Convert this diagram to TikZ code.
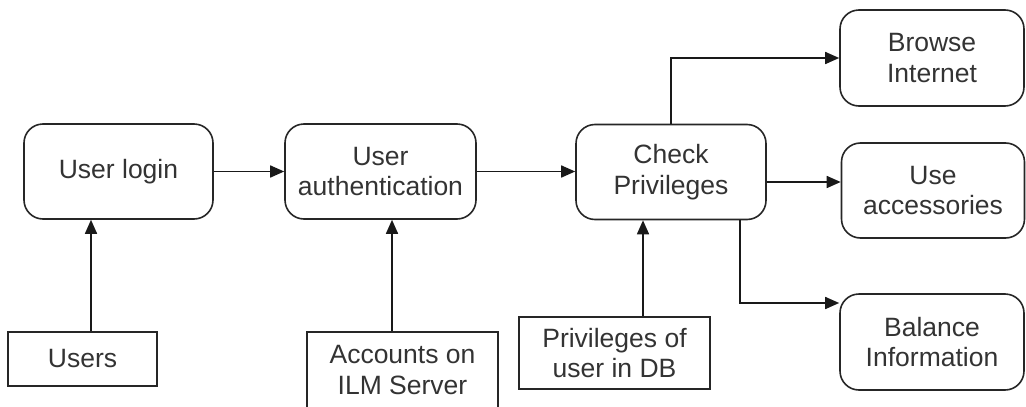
\documentclass[tikz,border=0pt]{standalone}
\usepackage{fontspec}
\setmainfont{Liberation Sans}
\usetikzlibrary{arrows.meta}
\begin{document}
\begin{tikzpicture}[x=1pt,y=-1pt,
  proc/.style={draw=black!85, line width=1.6pt, rounded corners=19pt, align=center,
    font=\fontsize{26.5}{30.5}\selectfont, text=black!80, inner sep=0pt},
  store/.style={draw=black!85, line width=1.6pt, align=center,
    font=\fontsize{26.5}{30.5}\selectfont, text=black!80, inner sep=0pt},
  arr/.style={draw=black!90, line width=1.6pt, -{Triangle[length=14pt,width=12pt]}}]
\useasboundingbox (0,0) rectangle (1026,407);
\node[proc, minimum width=189pt, minimum height=95pt] (login) at (118.5,171.5) {User login};
\node[proc, minimum width=191pt, minimum height=95pt] (auth) at (380.5,171.5) {User\\authentication};
\node[proc, minimum width=190pt, minimum height=95pt] (chk) at (671,172) {Check\\Privileges};
\node[proc, minimum width=184pt, minimum height=96pt] (browse) at (932,58) {Browse\\Internet};
\node[proc, minimum width=183pt, minimum height=95pt] (use) at (933,190.5) {Use\\accessories};
\node[proc, minimum width=184pt, minimum height=96pt] (bal) at (932,342) {Balance\\Information};
\node[store, minimum width=149pt, minimum height=54pt] (users) at (82.5,359) {Users};
\node[store, minimum width=191pt, minimum height=76pt] (acc) at (402.5,370) {Accounts on\\ILM Server};
\node[store, minimum width=191pt, minimum height=72pt] (priv) at (614.5,353) {Privileges of\\user in DB};

\draw[arr] (login.east) -- (auth.west);
\draw[arr] (auth.east) -- (chk.west |- auth.east);
\draw[arr] (users.north -| 91,0) -- (login.south -| 91,0);
\draw[arr] (acc.north -| 392,0) -- (auth.south -| 392,0);
\draw[arr] (priv.north -| 643,0) -- (chk.south -| 643,0);
\draw[arr] (chk.north) |- (browse.west);
\draw[arr] (chk.east |- 0,182) -- (use.west |- 0,182);
\draw[arr] (chk.south -| 740,0) |- (bal.west |- 0,303);
\end{tikzpicture}
\end{document}
